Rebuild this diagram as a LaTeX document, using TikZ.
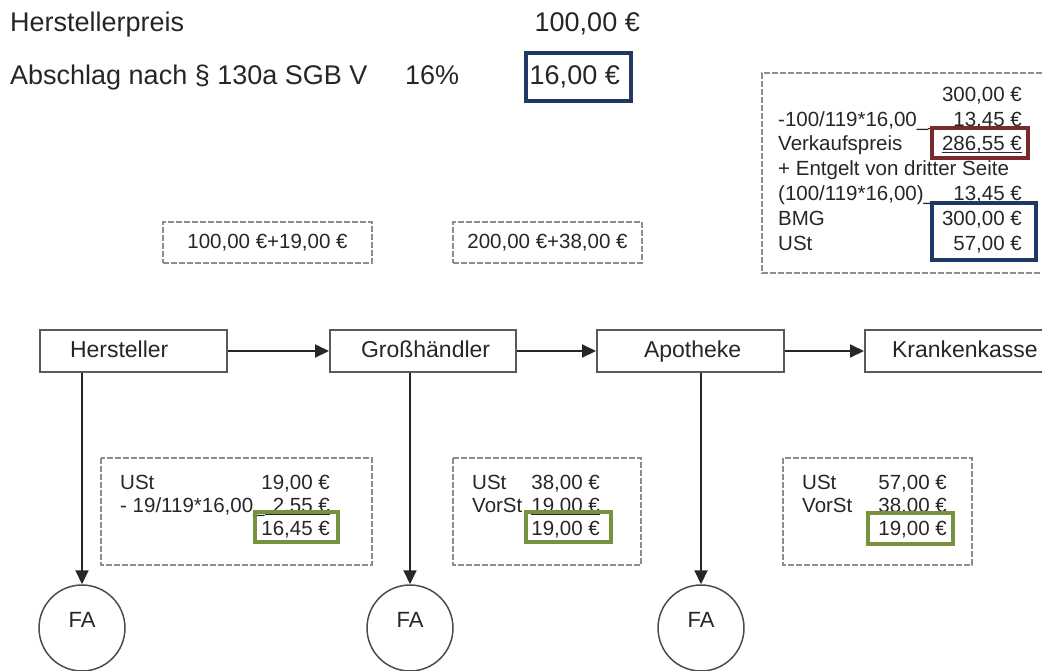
\documentclass[tikz,border=0pt]{standalone}
\usepackage{fontspec}
\setmainfont{Liberation Sans}
\usetikzlibrary{arrows.meta}
\definecolor{navy}{RGB}{31,56,100}
\definecolor{darkred}{RGB}{120,42,45}
\definecolor{olive}{RGB}{118,146,60}
\definecolor{ink}{RGB}{38,38,38}

\begin{document}
\begin{tikzpicture}[x=1pt,y=-1pt,
    txt/.style={inner sep=0pt,text=ink},
    big/.style={txt,font=\fontsize{27}{32}\selectfont},
    mid/.style={txt,font=\fontsize{20.5}{24}\selectfont},
    flowbox/.style={draw=black!65,line width=2pt,minimum height=42pt,align=left,
      text height=17pt,text depth=5pt,font=\fontsize{23}{28}\selectfont,text=ink},
    flowarrow/.style={draw=black!85,line width=2pt,-{Triangle[length=14pt,width=13pt]}},
    fanode/.style={circle,draw=black!70,line width=1.5pt,minimum size=86pt,inner sep=0pt,
      text depth=16pt,font=\fontsize{22}{26}\selectfont,text=ink},
    dashbox/.style={draw=black!45,line width=1.3pt,dash pattern=on 6pt off 2pt},
    markbox/.style={line width=3.5pt},
    uline/.style={draw=ink,line width=1pt}]
			\useasboundingbox (0,0) rectangle (1042,670);
			\clip (0,0) rectangle (1042,670);
			% price and discount
			\node[big,anchor=base west] (hpreis) at (10,31) {Herstellerpreis};
			\node[big,anchor=base east] (hpreisv) at (640,31) {100,00 €};
			\node[big,anchor=base west] (abschl) at (10,84) {Abschlag nach § 130a SGB V};
			\node[big,anchor=base west] (proz) at (405,84) {16\%};
			\node[big,anchor=base east] (abschlv) at (620,84) {16,00 €};
			\draw[navy,markbox] (526,53) rectangle (631,101);
			% sums between the stages
			\node[dashbox,mid,minimum width=209pt,minimum height=41pt] (sum1) at (267.5,242.5) {100,00 €+19,00 €};
			\node[dashbox,mid,minimum width=189pt,minimum height=41pt] (sum2) at (547.5,242.5) {200,00 €+38,00 €};
			% Apotheke: Bemessungsgrundlage
			\draw[dashbox] (1050,73) -- (762,73) -- (762,273) -- (1050,273);
			\node[mid,anchor=base east] (bv1) at (1022,101) {300,00 €};
			\node[mid,anchor=base west] (bl2) at (778,126) {-100/119*16,00\_};
			\node[mid,anchor=base east] (bv2) at (1022,126) {13,45 €};
			\node[mid,anchor=base west] (bl3) at (778,150) {Verkaufspreis};
			\node[mid,anchor=base east] (bv3) at (1022,150) {286,55 €};
			\node[mid,anchor=base west] (bl4) at (778,175) {+ Entgelt von dritter Seite};
			\node[mid,anchor=base west] (bl5) at (778,200) {(100/119*16,00)\_};
			\node[mid,anchor=base east] (bv5) at (1022,200) {13,45 €};
			\node[mid,anchor=base west] (bl6) at (778,225) {BMG};
			\node[mid,anchor=base east] (bv6) at (1022,225) {300,00 €};
			\node[mid,anchor=base west] (bl7) at (778,250) {USt};
			\node[mid,anchor=base east] (bv7) at (1022,250) {57,00 €};
			\draw[uline] ([yshift=-2pt]bl2.base east) -- ([yshift=-2pt]bv2.base east);
			\draw[uline] ([yshift=-2pt]bv3.base west) -- ([yshift=-2pt]bv3.base east);
			\draw[uline] ([yshift=-2pt]bl5.base east) -- ([yshift=-2pt]bv5.base east);
			\draw[darkred,markbox] (932,128) rectangle (1028,158);
			\draw[navy,markbox] (932,203) rectangle (1036,260);
			% chain of supply
			\node[flowbox,inner xsep=30pt,text width=127pt] (hst) at (133.5,351) {Hersteller};
			\node[flowbox,inner xsep=31pt,text width=124pt] (gh) at (423,351) {Großhändler};
			\node[flowbox,inner xsep=47pt,text width=93pt] (apo) at (690.5,351) {Apotheke};
			\node[flowbox,inner xsep=27pt,text width=146pt] (kk) at (965,351) {Krankenkasse};
			\draw[flowarrow] (hst) -- (gh);
			\draw[flowarrow] (gh) -- (apo);
			\draw[flowarrow] (apo) -- (kk);
			% tax offices
			\node[fanode] (fa1) at (82,628) {FA};
			\node[fanode] (fa2) at (410,628) {FA};
			\node[fanode] (fa3) at (701,628) {FA};
			\draw[flowarrow] (hst.south -| fa1.north) -- (fa1.north);
			\draw[flowarrow] (gh.south -| fa2.north) -- (fa2.north);
			\draw[flowarrow] (apo.south -| fa3.north) -- (fa3.north);
			% payable tax per stage
			\draw[dashbox] (101,458) rectangle (372,565);
			\node[mid,anchor=base west] (h1l) at (120,489) {USt};
			\node[mid,anchor=base east] (h1v) at (330,489) {19,00 €};
			\node[mid,anchor=base west] (h2l) at (120,512) {- 19/119*16,00\_};
			\node[mid,anchor=base east] (h2v) at (330,512) {2,55 €};
			\node[mid,anchor=base east] (h3v) at (330,535) {16,45 €};
			\draw[uline] ([yshift=-2pt]h2l.base east) -- ([yshift=-2pt]h2v.base east);
			\draw[olive,markbox] (255,512) rectangle (338,542);
			\draw[dashbox] (453,458) rectangle (641,565);
			\node[mid,anchor=base west] (g1l) at (472,489) {USt};
			\node[mid,anchor=base east] (g1v) at (600,489) {38,00 €};
			\node[mid,anchor=base west] (g2l) at (472,512) {VorSt};
			\node[mid,anchor=base east] (g2v) at (600,512) {19,00 €};
			\node[mid,anchor=base east] (g3v) at (600,535) {19,00 €};
			\draw[uline] ([yshift=-2pt]g2v.base west) -- ([yshift=-2pt]g2v.base east);
			\draw[olive,markbox] (526,512) rectangle (611,542);
			\draw[dashbox] (783,458) rectangle (972,565);
			\node[mid,anchor=base west] (a1l) at (802,489) {USt};
			\node[mid,anchor=base east] (a1v) at (947,489) {57,00 €};
			\node[mid,anchor=base west] (a2l) at (802,512) {VorSt};
			\node[mid,anchor=base east] (a2v) at (947,512) {38,00 €};
			\node[mid,anchor=base east] (a3v) at (947,535) {19,00 €};
			\draw[uline] ([yshift=-2pt]a2v.base west) -- ([yshift=-2pt]a2v.base east);
			\draw[olive,markbox] (868,513) rectangle (953,544);
		\end{tikzpicture}
\end{document}
